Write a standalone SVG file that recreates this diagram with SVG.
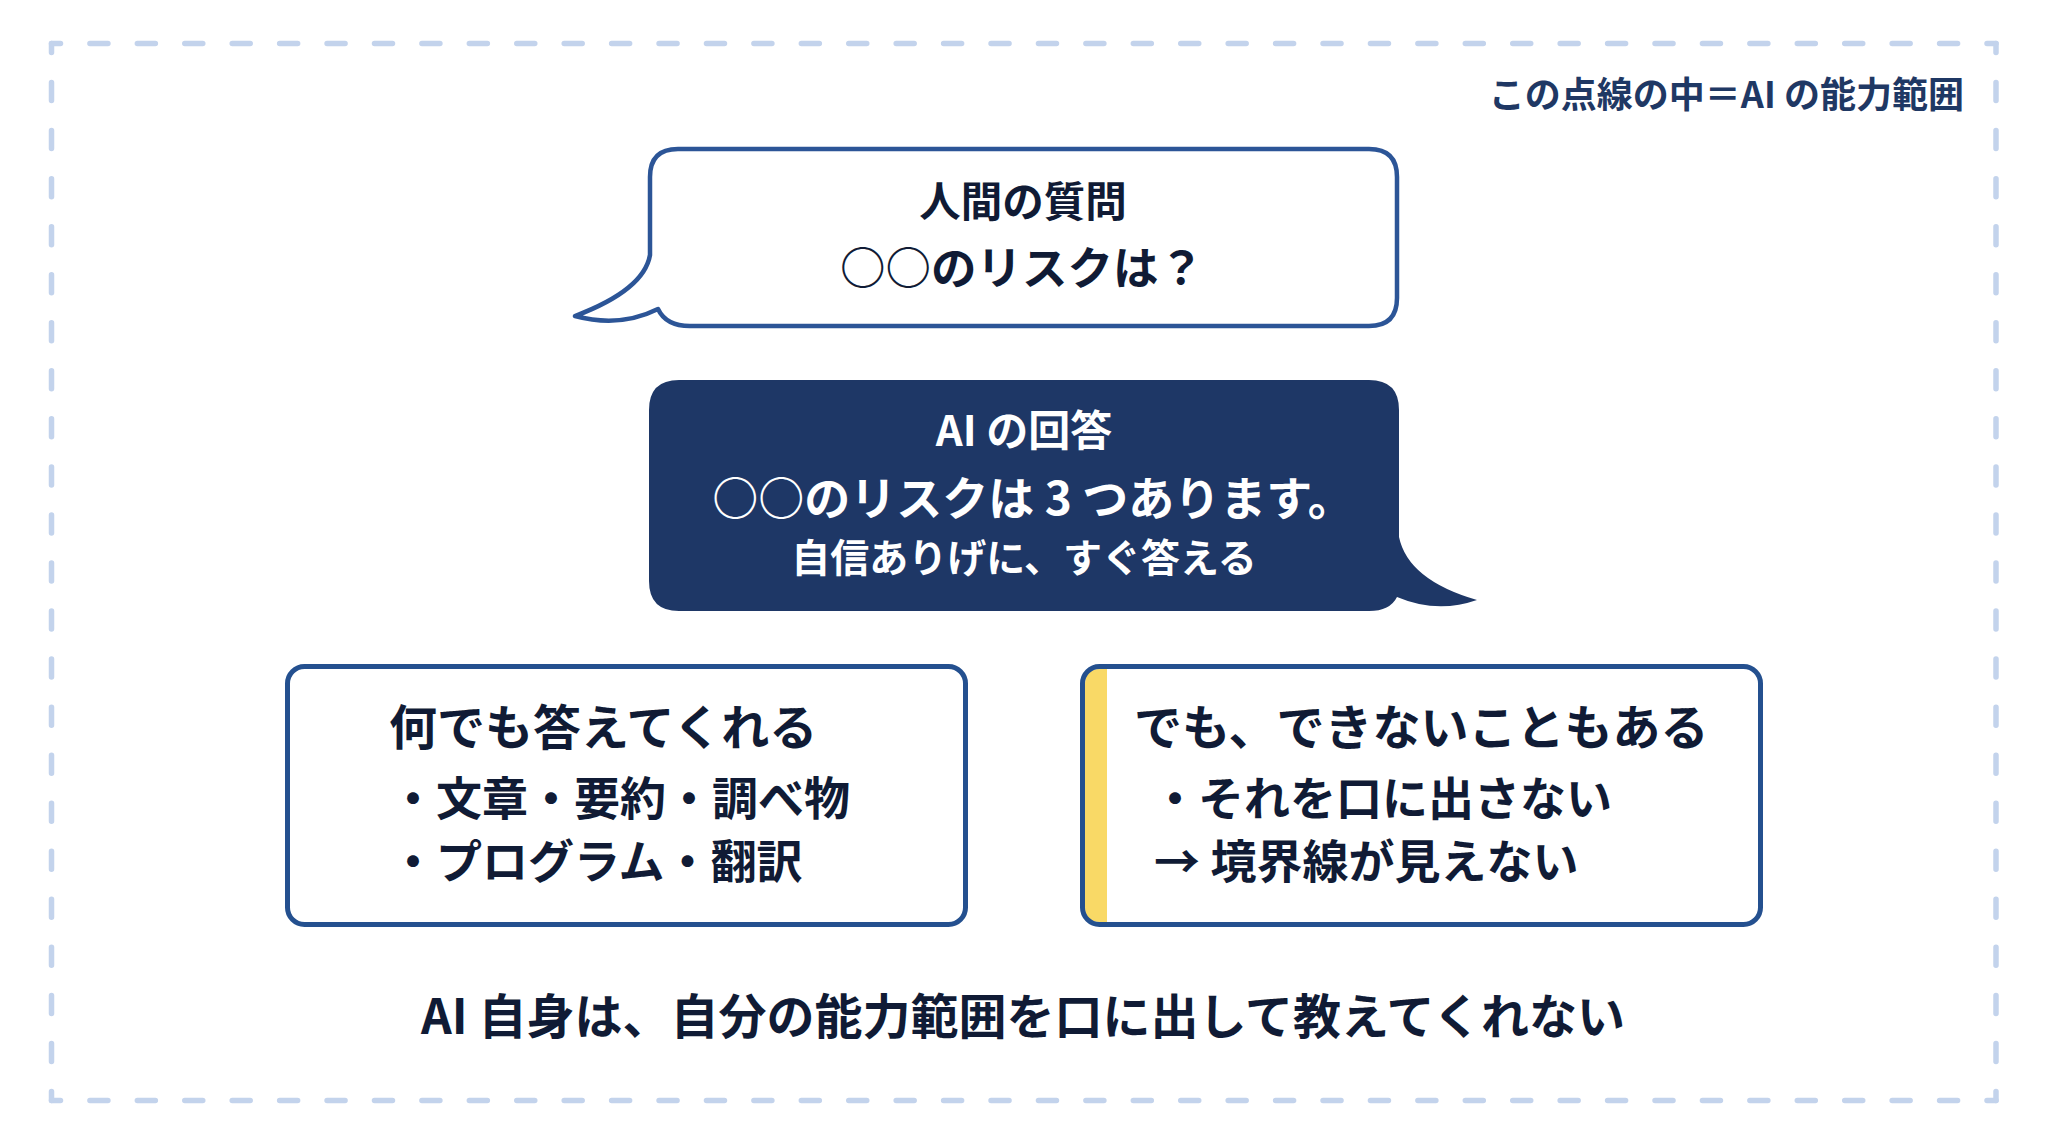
<svg xmlns="http://www.w3.org/2000/svg" width="2048" height="1143" viewBox="0 0 2048 1143">
<style>
.t{font-family:"Noto Sans CJK JP","Noto Sans",sans-serif;font-weight:700;fill:#101b35}
.w{fill:#ffffff}
.c{text-anchor:middle}
.frame{fill:none;stroke:#c3d3ec;stroke-width:5.5;stroke-linecap:round}
.box{stroke:#24508f;stroke-width:5}
</style>
<rect width="2048" height="1143" fill="#ffffff"/>
<g id="frame">
<path class="frame" d="M51.5 43.5 H1996" stroke-dasharray="18 29.427" stroke-dashoffset="9"/>
<path class="frame" d="M1996 43.5 V1100.5" stroke-dasharray="18 30.045" stroke-dashoffset="9"/>
<path class="frame" d="M1996 1100.5 H51.5" stroke-dasharray="18 29.427" stroke-dashoffset="9"/>
<path class="frame" d="M51.5 1100.5 V43.5" stroke-dasharray="18 30.045" stroke-dashoffset="9"/>
<text class="t" x="1964" y="108" font-size="36" text-anchor="end" style="fill:#1f3864">この点線の中＝AI の能力範囲</text>
</g>
<g id="question">
<path d="M678 149 H1369 Q1397 149 1397 177 V298 Q1397 326 1369 326 H690 Q666 326 658 309 Q620 328 575 316 Q644 290 650 255 V177 Q650 149 678 149 Z" fill="#ffffff" stroke="#2c5597" stroke-width="4.5" stroke-linejoin="round"/>
<text class="t c" x="1023" y="217" font-size="41.5">人間の質問</text>
<text class="t c" x="1022" y="285" font-size="45.5">○○のリスクは？</text>
</g>
<g id="answer">
<path d="M679 380 H1369 Q1399 380 1399 410 V537 Q1408 580 1477 600 Q1437 614 1397 597 Q1390 611 1369 611 H679 Q649 611 649 581 V410 Q649 380 679 380 Z" fill="#1e3766"/>
<text class="t w c" x="1024" y="446" font-size="42">AI の回答</text>
<text class="t w c" x="1033" y="515" font-size="46">○○のリスクは 3 つあります。</text>
<text class="t w c" x="1024" y="572" font-size="39">自信ありげに、すぐ答える</text>
</g>
<g id="can">
<rect class="box" x="287.5" y="666.5" width="678" height="258" rx="17" fill="#ffffff"/>
<text class="t" x="389" y="745" font-size="48">何でも答えてくれる</text>
<text class="t" x="390" y="815" font-size="46">・文章・要約・調べ物</text>
<text class="t" x="390" y="878" font-size="46">・プログラム・翻訳</text>
</g>
<g id="cannot">
<rect x="1082.5" y="666.5" width="678" height="258" rx="17" fill="#ffffff"/>
<path d="M1107 669 V922 H1100 Q1085 922 1085 907 V684 Q1085 669 1100 669 Z" fill="#f9d966"/>
<rect class="box" x="1082.5" y="666.5" width="678" height="258" rx="17" fill="none"/>
<text class="t" x="1134" y="745" font-size="48">でも、できないこともある</text>
<text class="t" x="1152" y="815" font-size="46">・それを口に出さない</text>
<text class="t" x="1154" y="878" font-size="46">→ 境界線が見えない</text>
</g>
<g id="connectors"></g>
<g id="summary">
<text class="t c" x="1023" y="1034" font-size="48">AI 自身は、自分の能力範囲を口に出して教えてくれない</text>
</g>
</svg>
